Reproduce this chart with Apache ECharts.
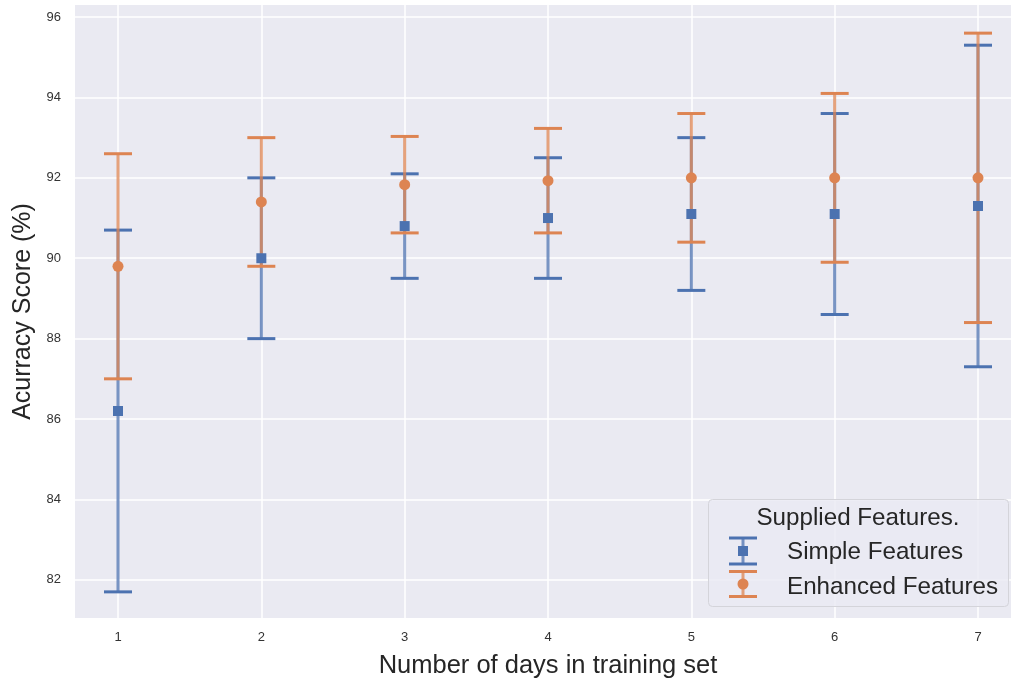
<!DOCTYPE html>
<html>
<head>
<meta charset="utf-8">
<script src="https://cdn.jsdelivr.net/npm/echarts@6/dist/echarts.min.js"></script>
<style>
html,body{margin:0;padding:0;background:#fff;}
#chart{width:1011px;height:679px;}
</style>
</head>
<body>
<div id="chart"></div>
<script>
const days = [1, 2, 3, 4, 5, 6, 7];
const simpleMean = [86.2, 90.0, 90.8, 91.0, 91.1, 91.1, 91.3];
const simpleErr = [4.5, 2.0, 1.3, 1.5, 1.9, 2.5, 4.0];
const enhancedMean = [89.8, 91.4, 91.83, 91.93, 92.0, 92.0, 92.0];
const enhancedErr = [2.8, 1.6, 1.2, 1.3, 1.6, 2.1, 3.6];
const seriesNames = ['Simple Features', 'Enhanced Features'];
const legendTitle = 'Supplied Features.';
const xTitle = 'Number of days in training set';
const yTitle = 'Acurracy Score (%)';

const BLUE = '#4C72B0';
const ORANGE = '#DD8452';
const FONT = "'Liberation Sans', Arial, sans-serif";

function errData(means, errs) {
  return days.map((d, i) => [d, means[i], errs[i]]);
}
function ptData(means) {
  return days.map((d, i) => [d, means[i]]);
}
function makeErrRender(color) {
  return function (params, api) {
    const x = api.value(0), m = api.value(1), e = api.value(2);
    const top = api.coord([x, m + e]);
    const bot = api.coord([x, m - e]);
    const hw = 14;
    return {
      type: 'group',
      children: [
        {type: 'line', shape: {x1: top[0], y1: top[1], x2: bot[0], y2: bot[1]},
         style: {stroke: color, lineWidth: 3, opacity: 0.75}},
        {type: 'line', shape: {x1: top[0] - hw, y1: top[1], x2: top[0] + hw, y2: top[1]},
         style: {stroke: color, lineWidth: 3}},
        {type: 'line', shape: {x1: bot[0] - hw, y1: bot[1], x2: bot[0] + hw, y2: bot[1]},
         style: {stroke: color, lineWidth: 3}}
      ]
    };
  };
}

const chart = echarts.init(document.getElementById('chart'), null, {renderer: 'canvas'});

const LX = 708, LY = 499;
const textStyle = (t, x, y, align) => ({type: 'text', x: LX + x, y: LY + y, z: 101,
  style: {text: t, fontSize: 24.2, fontFamily: FONT, fill: '#262626', align: align, verticalAlign: 'middle'}});
const seg = (x1, y1, x2, y2, color, op) => ({type: 'line', z: 101,
  shape: {x1: LX + x1, y1: LY + y1, x2: LX + x2, y2: LY + y2},
  style: {stroke: color, lineWidth: 3, opacity: op}});

const option = {
  animation: false,
  backgroundColor: '#ffffff',
  textStyle: {fontFamily: FONT},
  grid: {left: 75, top: 5, width: 946, height: 613, show: true,
         backgroundColor: '#EAEAF2', borderWidth: 0, containLabel: false,
         outerBoundsMode: 'none'},
  xAxis: {
    type: 'value', min: 0.7, max: 7.3, splitNumber: 7,
    axisLine: {show: false}, axisTick: {show: false},
    axisLabel: {color: '#333', fontSize: 13, margin: 13, showMinLabel: false, showMaxLabel: false, fontFamily: FONT},
    splitLine: {show: true, showMinLine: false, showMaxLine: false, lineStyle: {color: '#ffffff', width: 1.5}},
    name: xTitle, nameLocation: 'middle', nameGap: 35,
    nameTextStyle: {fontSize: 25.5, color: '#262626', fontFamily: FONT}
  },
  yAxis: {
    type: 'value', min: 81.05, max: 96.3, splitNumber: 7,
    axisLine: {show: false}, axisTick: {show: false},
    axisLabel: {color: '#333', fontSize: 13, margin: 14, showMinLabel: false, showMaxLabel: false, fontFamily: FONT},
    splitLine: {show: true, showMinLine: false, showMaxLine: false, lineStyle: {color: '#ffffff', width: 1.5}},
    name: yTitle, nameLocation: 'middle', nameGap: 39,
    nameTextStyle: {fontSize: 25, color: '#262626', fontFamily: FONT}
  },
  series: [
    {type: 'custom', name: seriesNames[0], data: errData(simpleMean, simpleErr),
     renderItem: makeErrRender(BLUE), z: 2, silent: true},
    {type: 'custom', name: seriesNames[1], data: errData(enhancedMean, enhancedErr),
     renderItem: makeErrRender(ORANGE), z: 2, silent: true},
    {type: 'scatter', data: ptData(simpleMean), symbol: 'rect', symbolSize: 10,
     itemStyle: {color: BLUE, opacity: 1}, z: 3, silent: true},
    {type: 'scatter', data: ptData(enhancedMean), symbol: 'circle', symbolSize: 11,
     itemStyle: {color: ORANGE, opacity: 1}, z: 3, silent: true}
  ],
  graphic: [
    {type: 'rect', z: 100, shape: {x: LX + 0.5, y: LY + 0.5, width: 300, height: 107, r: 4},
     style: {fill: 'rgba(234,234,242,0.8)', stroke: '#d4d4da', lineWidth: 1}},
    textStyle(legendTitle, 150, 19, 'center'),
    seg(35, 39, 35, 65, BLUE, 0.75),
    seg(21, 39, 49, 39, BLUE, 1),
    seg(21, 65, 49, 65, BLUE, 1),
    {type: 'rect', z: 102, shape: {x: LX + 30, y: LY + 47, width: 10, height: 10}, style: {fill: BLUE}},
    textStyle(seriesNames[0], 79, 53, 'left'),
    seg(35, 72.5, 35, 97.5, ORANGE, 0.75),
    seg(21, 72.5, 49, 72.5, ORANGE, 1),
    seg(21, 97.5, 49, 97.5, ORANGE, 1),
    {type: 'circle', z: 102, shape: {cx: LX + 35, cy: LY + 85, r: 5.5}, style: {fill: ORANGE}},
    textStyle(seriesNames[1], 79, 88, 'left')
  ]
};
chart.setOption(option);
</script>
</body>
</html>
